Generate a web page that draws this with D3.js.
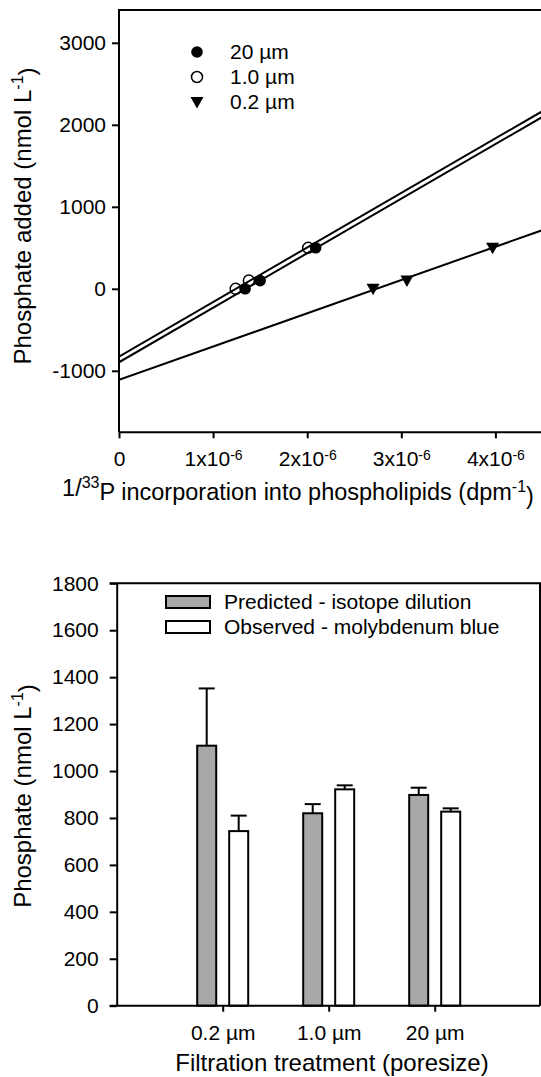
<!DOCTYPE html>
<html><head><meta charset="utf-8">
<script src="https://cdn.jsdelivr.net/npm/d3@7"></script>
<style>
body{margin:0;background:#fff}
svg{display:block}
text{font-family:"Liberation Sans",Arial,Helvetica,sans-serif;fill:#000}
</style>
</head><body>
<svg id="c" width="541" height="1077"></svg>
<script>
// ---------- Data: top panel (isotope dilution regressions) ----------
const seriesNames = ["20 µm", "1.0 µm", "0.2 µm"];
const x20 = [1.34e-6, 1.50e-6, 2.09e-6];
const y20 = [0, 100, 500];
const x10 = [1.24e-6, 1.38e-6, 2.01e-6];
const y10 = [0, 100, 500];
const x02 = [2.70e-6, 3.06e-6, 3.97e-6];
const y02 = [0, 100, 500];
// fitted regression lines (intercept in nmol L-1, slope in nmol L-1 per dpm-1)
const fitIntercept = [-896, -826, -1111];
const fitSlope = [665e6, 665e6, 406e6];
const xTicksTop = [0, 1e-6, 2e-6, 3e-6, 4e-6];
const yTicksTop = [-1000, 0, 1000, 2000, 3000];

// ---------- Data: bottom panel (bars) ----------
const categories = ["0.2 µm", "1.0 µm", "20 µm"];
const barSeries = ["Predicted - isotope dilution", "Observed - molybdenum blue"];
const predicted = [1108, 820, 898];
const predictedErr = [244, 39, 31];
const observed = [744, 922, 827];
const observedErr = [66, 17, 14];
const yTicksBottom = [0, 200, 400, 600, 800, 1000, 1200, 1400, 1600, 1800];

const svg = d3.select("#c");
const TICK_FS = 21, TITLE_FS = 24, LEG_FS = 21;
const fmt = d => String(d);

// ================= TOP PANEL =================
const T = {left: 119, top: 10, bottom: 432.3};
const xT = d3.scaleLinear().domain([0, 5e-6]).range([T.left, T.left + 5 * 94.1]);
const yT = d3.scaleLinear().domain([-1750, 3400]).range([T.bottom, T.top]);

svg.append("defs").append("clipPath").attr("id", "clipTop")
  .append("rect").attr("x", T.left).attr("y", T.top).attr("width", 541 - T.left).attr("height", T.bottom - T.top);

const series = [
  {name: seriesNames[0], xs: x20, ys: y20, sym: "filled", a: fitIntercept[0], b: fitSlope[0]},
  {name: seriesNames[1], xs: x10, ys: y10, sym: "open", a: fitIntercept[1], b: fitSlope[1]},
  {name: seriesNames[2], xs: x02, ys: y02, sym: "tri", a: fitIntercept[2], b: fitSlope[2]}
];

const gTop = svg.append("g");
const plotTop = gTop.append("g").attr("clip-path", "url(#clipTop)");
const lineGen = d3.line().x(d => xT(d[0])).y(d => yT(d[1]));
series.forEach(s => {
  const xd = xT.domain();
  plotTop.append("path")
    .attr("d", lineGen(xd.map(x => [x, s.a + s.b * x])))
    .attr("fill", "none").attr("stroke", "#000").attr("stroke-width", 2);
});
const triPath = "M-6.5,-5 L6.5,-5 L0,6.5 Z";
function drawSym(g, sym, cx, cy) {
  if (sym === "filled") g.append("circle").attr("cx", cx).attr("cy", cy).attr("r", 5.8).attr("fill", "#000");
  else if (sym === "open") g.append("circle").attr("cx", cx).attr("cy", cy).attr("r", 5.5).attr("fill", "none").attr("stroke", "#000").attr("stroke-width", 1.5);
  else g.append("path").attr("d", triPath).attr("transform", `translate(${cx},${cy})`).attr("fill", "#000");
}
series.forEach(s => {
  s.xs.forEach((x, i) => drawSym(plotTop, s.sym, xT(x), yT(s.ys[i])));
});

// axes
const axLT = d3.axisLeft(yT).tickValues(yTicksTop).tickSize(7).tickSizeOuter(0).tickPadding(6).tickFormat(fmt);
const gyT = gTop.append("g").attr("transform", `translate(${T.left},0)`).call(axLT);
const axBT = d3.axisBottom(xT).tickValues(xTicksTop).tickSize(6).tickSizeOuter(0).tickPadding(13).tickFormat(() => "");
const gxT = gTop.append("g").attr("transform", `translate(0,${T.bottom})`).call(axBT);
gxT.select(".domain").attr("d", `M${T.left},0H541`);
gyT.select(".domain").attr("d", `M0,${yT(-1750)}V${T.top}`);
[gyT, gxT].forEach(g => {
  g.selectAll("path,line").attr("stroke", "#000").attr("stroke-width", 2);
  g.selectAll("text").attr("font-size", TICK_FS).attr("font-family", null);
});
gxT.selectAll(".tick text").each(function(d) {
  const t = d3.select(this);
  if (d === 0) { t.text("0"); return; }
  const m = Math.round(d / 1e-6);
  t.append("tspan").text(m + "x10");
  t.append("tspan").attr("font-size", 14).attr("dy", "-0.45em").text("-6");
});
// top frame line
gTop.append("line").attr("x1", T.left - 1).attr("x2", 541).attr("y1", T.top).attr("y2", T.top)
  .attr("stroke", "#000").attr("stroke-width", 2);

// legend
const legT = gTop.append("g");
series.forEach((s, i) => {
  const cy = 52 + i * 25;
  drawSym(legT, s.sym, 197, cy);
  legT.append("text").attr("x", 230).attr("y", cy).attr("dy", "0.35em").attr("font-size", LEG_FS).text(s.name);
});

// titles
const xtT = gTop.append("text").attr("x", 298).attr("y", 488).attr("dy", "0.35em")
  .attr("text-anchor", "middle").attr("font-size", 23.5);
xtT.append("tspan").text("1/");
xtT.append("tspan").attr("font-size", 16).attr("dy", "-0.5em").text("33");
xtT.append("tspan").attr("dy", "0.5em").text("P incorporation into phospholipids (dpm");
xtT.append("tspan").attr("font-size", 16).attr("dy", "-0.5em").text("-1");
xtT.append("tspan").attr("dy", "0.5em").text(")");

const ytT = gTop.append("text").attr("transform", `translate(23,216) rotate(-90)`)
  .attr("dy", "0.35em").attr("text-anchor", "middle").attr("font-size", TITLE_FS);
ytT.append("tspan").text("Phosphate added (nmol L");
ytT.append("tspan").attr("font-size", 16).attr("dy", "-0.5em").text("-1");
ytT.append("tspan").attr("dy", "0.5em").text(")");

// ================= BOTTOM PANEL =================
const B = {left: 116.7, right: 540, top: 583.3, bottom: 1005.7};
const xB = d3.scaleLinear().domain([0, 4]).range([B.left, B.left + 4 * 106]);
const yB = d3.scaleLinear().domain([0, 1800]).range([B.bottom, B.top]);
const sub = d3.scaleBand().domain(barSeries).range([-25.5, 25.5]).paddingInner(0.406);

const gBot = svg.append("g");
const barData = [];
categories.forEach((c, i) => {
  barData.push({cat: i + 1, s: barSeries[0], v: predicted[i], e: predictedErr[i], fill: "#a8a8a8"});
  barData.push({cat: i + 1, s: barSeries[1], v: observed[i], e: observedErr[i], fill: "#ffffff"});
});
// error bars (upward only)
barData.forEach(d => {
  const cx = xB(d.cat) + sub(d.s) + sub.bandwidth() / 2;
  gBot.append("line").attr("x1", cx).attr("x2", cx).attr("y1", yB(d.v)).attr("y2", yB(d.v + d.e))
    .attr("stroke", "#000").attr("stroke-width", 2);
  gBot.append("line").attr("x1", cx - 8).attr("x2", cx + 8).attr("y1", yB(d.v + d.e)).attr("y2", yB(d.v + d.e))
    .attr("stroke", "#000").attr("stroke-width", 2);
});
gBot.selectAll("rect.bar").data(barData).join("rect").attr("class", "bar")
  .attr("x", d => xB(d.cat) + sub(d.s))
  .attr("width", sub.bandwidth())
  .attr("y", d => yB(d.v))
  .attr("height", d => yB(0) - yB(d.v))
  .attr("fill", d => d.fill).attr("stroke", "#000").attr("stroke-width", 2);

const axLB = d3.axisLeft(yB).tickValues(yTicksBottom).tickSize(7).tickSizeOuter(0).tickPadding(11).tickFormat(fmt);
const gyB = gBot.append("g").attr("transform", `translate(${B.left},0)`).call(axLB);
const axBB = d3.axisBottom(xB).tickValues([1, 2, 3]).tickSize(6).tickSizeOuter(0).tickPadding(13)
  .tickFormat(d => categories[d - 1]);
const gxB = gBot.append("g").attr("transform", `translate(0,${B.bottom})`).call(axBB);
gxB.select(".domain").attr("d", `M${B.left - 7},0H${B.right}`);
[gyB, gxB].forEach(g => {
  g.selectAll("path,line").attr("stroke", "#000").attr("stroke-width", 2);
  g.selectAll("text").attr("font-size", TICK_FS).attr("font-family", null);
});
// frame top & right
gBot.append("path").attr("d", `M${B.left - 7},${B.top}H${B.right}V${B.bottom}`)
  .attr("fill", "none").attr("stroke", "#000").attr("stroke-width", 2);

// legend
const legB = gBot.append("g");
barSeries.forEach((s, i) => {
  const cy = 602 + i * 25;
  legB.append("rect").attr("x", 166).attr("y", cy - 6).attr("width", 44).attr("height", 12)
    .attr("fill", i === 0 ? "#a8a8a8" : "#fff").attr("stroke", "#000").attr("stroke-width", 2);
  legB.append("text").attr("x", 224).attr("y", cy).attr("dy", "0.35em").attr("font-size", LEG_FS).text(s);
});

// titles
gBot.append("text").attr("x", 332).attr("y", 1063).attr("dy", "0.35em").attr("text-anchor", "middle")
  .attr("font-size", TITLE_FS).text("Filtration treatment (poresize)");
const ytB = gBot.append("text").attr("transform", `translate(23,796) rotate(-90)`)
  .attr("dy", "0.35em").attr("text-anchor", "middle").attr("font-size", TITLE_FS);
ytB.append("tspan").text("Phosphate (nmol L");
ytB.append("tspan").attr("font-size", 16).attr("dy", "-0.5em").text("-1");
ytB.append("tspan").attr("dy", "0.5em").text(")");
</script>
</body></html>
